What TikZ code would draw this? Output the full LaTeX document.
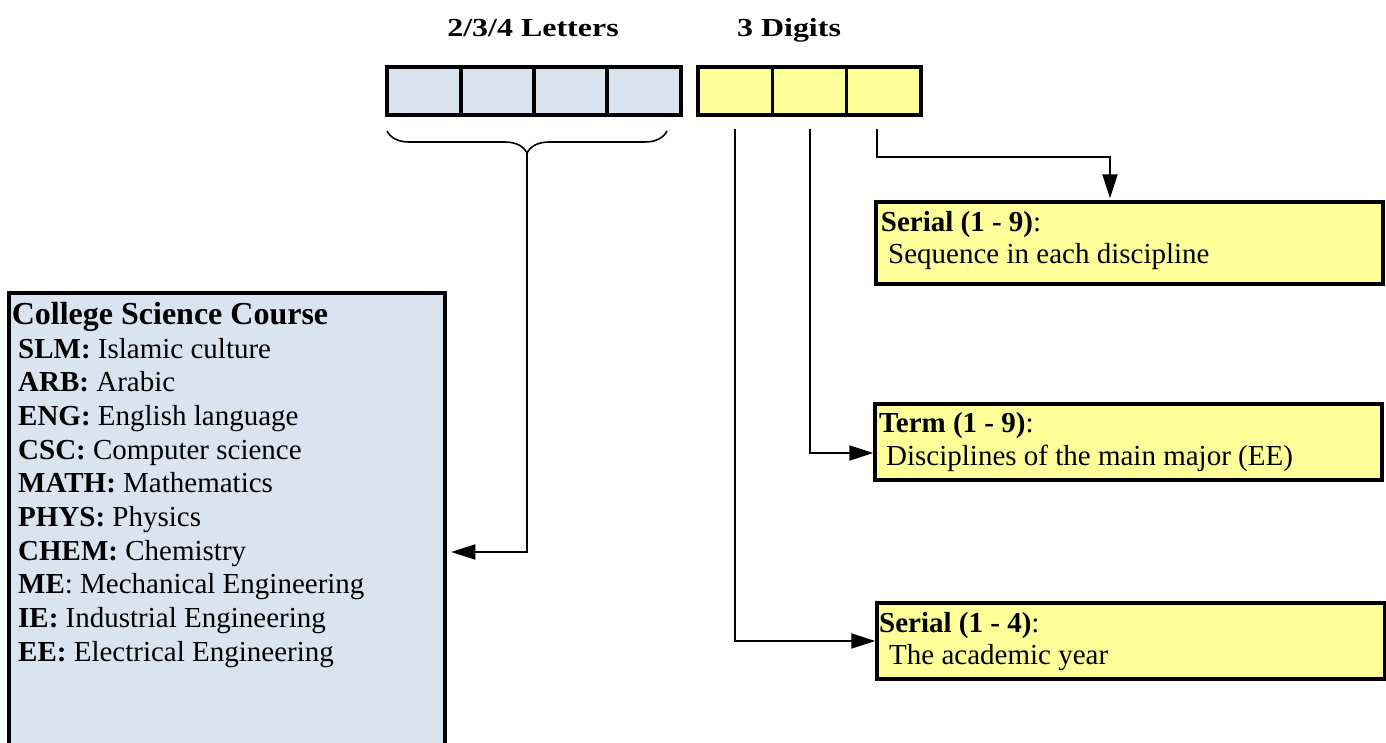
\documentclass[tikz,border=0pt]{standalone}
\usepackage{fontspec}
\usepackage{graphicx}
\setmainfont{Liberation Serif}
\usetikzlibrary{arrows.meta,decorations.pathreplacing}
\definecolor{cellblue}{RGB}{218,227,240}
\definecolor{cellyellow}{RGB}{255,255,153}
\begin{document}
\begin{tikzpicture}[x=1pt,y=-1pt,
  cellL/.style={draw, line width=3.5pt, fill=cellblue, minimum width=74pt, minimum height=48pt, inner sep=0pt},
  cellD/.style={draw, line width=3.5pt, fill=cellyellow, minimum width=74.3pt, minimum height=48pt, inner sep=0pt},
  infobox/.style={draw, line width=3.5pt, fill=cellyellow, inner sep=0pt},
  head/.style={font=\fontsize{26}{30}\selectfont\bfseries, anchor=base, inner sep=0pt},
  txt/.style={font=\fontsize{29}{34}\selectfont, anchor=base west, inner sep=0pt},
  arr/.style={line width=2pt, -{Triangle[length=24pt,width=15pt]}},
  conn/.style={line width=2pt}
]
\useasboundingbox (0,0) rectangle (1386,742);
\clip (0,0) rectangle (1386,742);

% headers
\node[head] (hL) at (533,36) {\scalebox{1.23}[1]{2/3/4 Letters}};
\node[head] (hD) at (789,36) {\scalebox{1.23}[1]{3 Digits}};

% cells
\node[cellL] (L1) at (424,91) {};
\node[cellL] (L2) at (498,91) {};
\node[cellL] (L3) at (571,91) {};
\node[cellL] (L4) at (644,91) {};
\node[cellD] (D1) at (735.2,91) {};
\node[cellD] (D2) at (809.5,91) {};
\node[cellD] (D3) at (883.8,91) {};

% category box
\node[draw, line width=3.5pt, fill=cellblue, minimum width=436pt, minimum height=518pt, inner sep=0pt] (cat) at (227,552) {};
\node[txt, font=\fontsize{32}{38}\selectfont\bfseries] (cTitle) at (11.6,324) {College Science Course};
\node[txt] (c1) at (18,358) {\textbf{SLM:} Islamic culture};
\node[txt] (c2) at (18,391.7) {\textbf{ARB:} Arabic};
\node[txt] (c3) at (18,425.4) {\textbf{ENG:} English language};
\node[txt] (c4) at (18,459.1) {\textbf{CSC:} Computer science};
\node[txt] (c5) at (18,492.8) {\textbf{MATH:} Mathematics};
\node[txt] (c6) at (18,526.5) {\textbf{PHYS:} Physics};
\node[txt] (c7) at (18,560.2) {\textbf{CHEM:} Chemistry};
\node[txt] (c8) at (18,593.9) {\textbf{ME}: Mechanical Engineering};
\node[txt] (c9) at (18,627.6) {\textbf{IE:} Industrial Engineering};
\node[txt] (c10) at (18,661.3) {\textbf{EE:} Electrical Engineering};

% info boxes
\node[infobox, minimum width=507pt, minimum height=82pt] (s9) at (1129.5,243) {};
\node[txt] (s9a) at (880.7,231) {\textbf{Serial (1 - 9)}:};
\node[txt] (s9b) at (888,263) {Sequence in each discipline};

\node[infobox, minimum width=507pt, minimum height=76pt] (tm) at (1128.5,442) {};
\node[txt] (tma) at (879,432.7) {\textbf{Term (1 - 9)}:};
\node[txt] (tmb) at (886,465) {Disciplines of the main major (EE)};

\node[infobox, minimum width=507.6pt, minimum height=76pt] (s4) at (1130.8,641) {};
\node[txt] (s4a) at (879,632) {\textbf{Serial (1 - 4)}:};
\node[txt] (s4b) at (889,664) {The academic year};

% brace
\draw[conn, line width=1.6pt, decorate, decoration={brace, amplitude=22pt}] (667,131) -- (387,131);
\coordinate (bt) at (527,153);
\draw[arr, shorten >=4.5pt] (bt) |- (cat.east);

% digit connectors
\draw[arr, shorten <=12pt] (D1.south) |- (s4.west);
\draw[arr, shorten <=12pt] (D2.south) |- ([yshift=-11pt]tm.west);
\coordinate (k3) at (1110,157);
\draw[arr, shorten <=12pt, shorten >=2pt] ([xshift=-6.8pt]D3.south) |- (k3) -- (k3 |- s9.north);
\end{tikzpicture}
\end{document}
